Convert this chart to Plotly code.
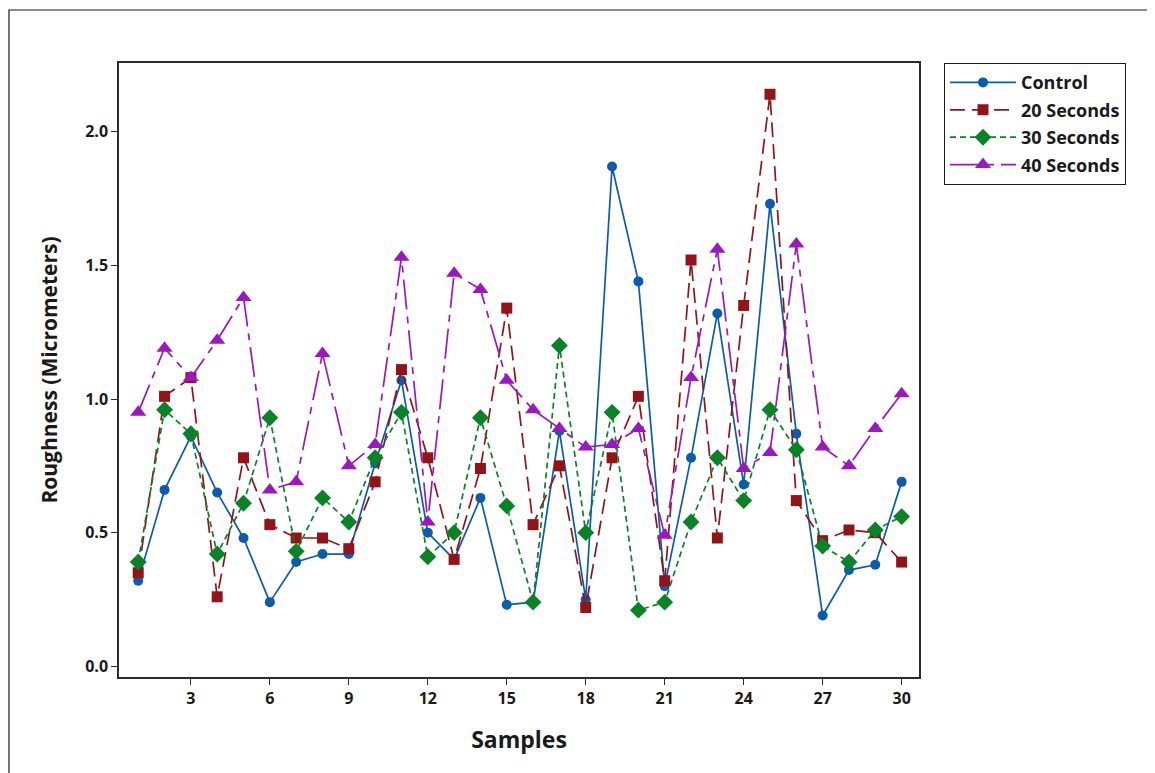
import plotly.graph_objects as go

samples = list(range(1, 31))

control = [0.32, 0.66, 0.86, 0.65, 0.48, 0.24, 0.39, 0.42, 0.42, 0.76,
           1.07, 0.50, 0.40, 0.63, 0.23, 0.24, 0.88, 0.25, 1.87, 1.44,
           0.30, 0.78, 1.32, 0.68, 1.73, 0.87, 0.19, 0.36, 0.38, 0.69]
sec20 = [0.35, 1.01, 1.08, 0.26, 0.78, 0.53, 0.48, 0.48, 0.44, 0.69,
         1.11, 0.78, 0.40, 0.74, 1.34, 0.53, 0.75, 0.22, 0.78, 1.01,
         0.32, 1.52, 0.48, 1.35, 2.14, 0.62, 0.47, 0.51, 0.50, 0.39]
sec30 = [0.39, 0.96, 0.87, 0.42, 0.61, 0.93, 0.43, 0.63, 0.54, 0.78,
         0.95, 0.41, 0.50, 0.93, 0.60, 0.24, 1.20, 0.50, 0.95, 0.21,
         0.24, 0.54, 0.78, 0.62, 0.96, 0.81, 0.45, 0.39, 0.51, 0.56]
sec40 = [0.95, 1.19, 1.08, 1.22, 1.38, 0.66, 0.69, 1.17, 0.75, 0.83,
         1.53, 0.54, 1.47, 1.41, 1.07, 0.96, 0.89, 0.82, 0.83, 0.89,
         0.49, 1.08, 1.56, 0.74, 0.80, 1.58, 0.82, 0.75, 0.89, 1.02]

series_names = ["Control", "20 Seconds", "30 Seconds", "40 Seconds"]
series_values = [control, sec20, sec30, sec40]
colors = ["#0b5cad", "#921418", "#0a8228", "#9a18c0"]
symbols = ["circle", "square", "diamond", "triangle-up"]
sizes = [10, 11, 13, 14]
dashes = ["solid", "15px,7px", "6px,4px", "30px,7px,7px,7px"]

x_ticks = [3, 6, 9, 12, 15, 18, 21, 24, 27, 30]
y_ticks = [0.0, 0.5, 1.0, 1.5, 2.0]

FONT = "Open Sans"

fig = go.Figure()
for name, vals, c, sym, sz, d in zip(series_names, series_values, colors, symbols, sizes, dashes):
    fig.add_trace(go.Scatter(
        x=samples, y=vals, name=name, mode="lines+markers",
        legendgroup=name,
        line=dict(color=c, width=1.7, dash=d),
        marker=dict(color=c, symbol=sym, size=sz, line=dict(width=0)),
    ))

axis_common = dict(
    showgrid=False, zeroline=False, showline=True, mirror=True,
    linecolor="#2b2b2b", linewidth=1.5,
    ticks="outside", ticklen=6, tickwidth=1.2, tickcolor="#2b2b2b",
    tickfont=dict(family=FONT, size=16, color="#1a1a1a", weight="bold"),
)

fig.update_layout(
    width=1155, height=773,
    margin=dict(l=111, r=244, t=55, b=104),
    paper_bgcolor="white", plot_bgcolor="white",
    xaxis=dict(range=[0.27, 30.66], tickvals=x_ticks,
               title=dict(text="Samples", standoff=24,
                          font=dict(family=FONT, size=23, color="#1a1a1a", weight="bold")),
               **axis_common),
    yaxis=dict(range=[-0.04, 2.257], tickvals=y_ticks, tickformat=".1f",
               title=dict(text="Roughness (Micrometers)", standoff=22,
                          font=dict(family=FONT, size=21, color="#1a1a1a", weight="bold")),
               **axis_common),
    legend=dict(x=1.031, y=1.0, xanchor="left", yanchor="top",
                bordercolor="#1a1a1a", borderwidth=1.2, bgcolor="white",
                tracegroupgap=1, itemwidth=66,
                font=dict(family=FONT, size=18, color="#1a1a1a", weight="bold")),
    showlegend=True,
    shapes=[dict(type="rect", xref="paper", yref="paper",
                 x0=-0.1375, x1=1.2925, y0=-0.2, y1=1.0863,
                 line=dict(color="#1a1a1a", width=1.2), fillcolor="rgba(0,0,0,0)",
                 layer="below")],
)

fig.write_html("out.html")
